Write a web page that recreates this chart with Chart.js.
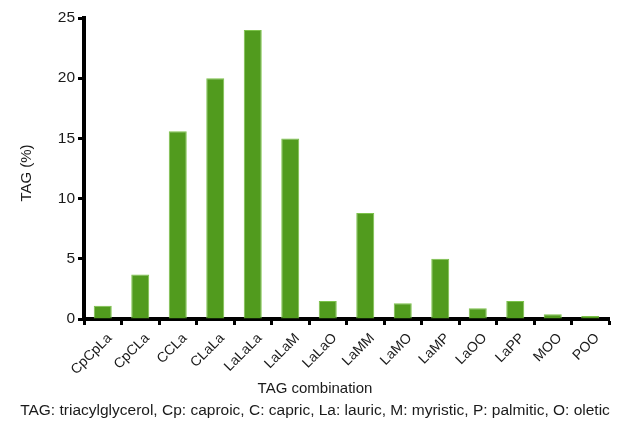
<!DOCTYPE html>
<html>
<head>
<meta charset="utf-8">
<script src="https://cdn.jsdelivr.net/npm/chart.js@4"></script>
<style>
    html, body { margin: 0; padding: 0; background: #fff; }
    #wrap { width: 618px; height: 423px; position: relative; }
</style>
</head>
<body>
<div id="wrap"><canvas id="tagChart"></canvas></div>
<script>
// TAG combinations and their share (%).
const categories = ['CpCpLa', 'CpCLa', 'CCLa', 'CLaLa', 'LaLaLa', 'LaLaM', 'LaLaO',
    'LaMM', 'LaMO', 'LaMP', 'LaOO', 'LaPP', 'MOO', 'POO'];
const tagPercent = [1.1, 3.7, 15.6, 20, 24, 15, 1.5, 8.8, 1.3, 5.0, 0.9, 1.5, 0.4, 0.25];
const yTicks = [0, 5, 10, 15, 20, 25];
const xTitle = 'TAG combination';
const yTitle = 'TAG (%)';
const footnote = 'TAG: triacylglycerol, Cp: caproic, C: capric, La: lauric, M: myristic, P: palmitic, O: oletic';

const barGreen = '#519b1e';
const textColor = '#1a1a1a';
const font = 'Liberation Sans, Arial, sans-serif';

// Axis titles and footnote, centred on the whole figure like the original.
const captionPlugin = {
    id: 'captions',
    afterDraw(chart) {
        const { ctx } = chart;
        ctx.save();
        ctx.fillStyle = textColor;
        ctx.textAlign = 'center';
        ctx.textBaseline = 'middle';

        ctx.font = '15px ' + font;
        ctx.fillText(xTitle, 315, 389);

        ctx.font = '15.5px ' + font;
        ctx.fillText(footnote, 315, 411);

        ctx.translate(27, 173);
        ctx.rotate(-Math.PI / 2);
        ctx.font = '15px ' + font;
        ctx.fillText(yTitle, 0, 0);
        ctx.restore();
    }
};

new Chart(document.getElementById('tagChart').getContext('2d'), {
    type: 'bar',
    data: {
        labels: categories,
        datasets: [{
            data: tagPercent,
            backgroundColor: barGreen,
            borderColor: '#7cc24a',
            borderWidth: 1,
            barPercentage: 0.48,
            categoryPercentage: 1
        }]
    },
    options: {
        responsive: true,
        maintainAspectRatio: false,
        animation: false,
        layout: {
            padding: { left: 0, right: 9, top: 18, bottom: 20 }
        },
        plugins: {
            legend: { display: false },
            tooltip: { enabled: false }
        },
        scales: {
            x: {
                afterFit: (s) => { s.height = 84; },
                border: { display: true, color: '#000', width: 4 },
                grid: {
                    offset: true,
                    drawOnChartArea: false,
                    drawTicks: true,
                    tickLength: 6,
                    tickWidth: 3,
                    color: '#000'
                },
                ticks: {
                    maxRotation: 45,
                    minRotation: 45,
                    autoSkip: false,
                    padding: 5,
                    labelOffset: 7,
                    color: textColor,
                    font: { family: font, size: 14 }
                }
            },
            y: {
                min: 0,
                max: 25,
                afterFit: (s) => { s.width = 84; },
                afterBuildTicks: (s) => { s.ticks = yTicks.map(v => ({ value: v })); },
                border: { display: true, color: '#000', width: 4 },
                grid: {
                    drawOnChartArea: false,
                    drawTicks: true,
                    tickLength: 6,
                    tickWidth: 3,
                    color: '#000'
                },
                ticks: {
                    padding: 3,
                    color: textColor,
                    font: { family: font, size: 15.5 }
                }
            }
        }
    },
    plugins: [captionPlugin]
});
</script>
</body>
</html>
